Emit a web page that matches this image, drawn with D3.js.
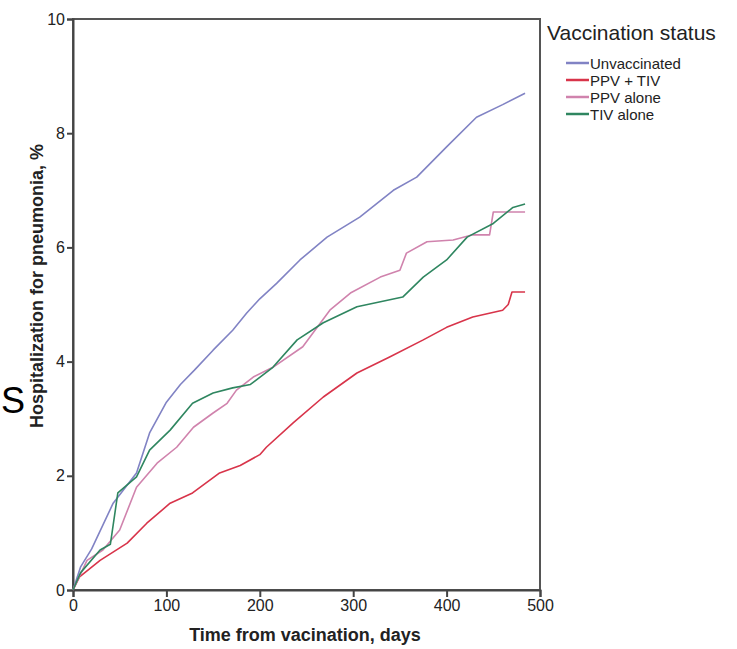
<!DOCTYPE html>
<html>
<head>
<meta charset="utf-8">
<script src="https://cdn.jsdelivr.net/npm/d3@7"></script>
<style>
  body { margin: 0; background: #fff; }
  text { font-family: "Liberation Sans", Arial, sans-serif; }
</style>
</head>
<body>
<div id="my_dataviz"></div>
<script>
var width = 737
height = 649

// series (days since vaccination, % hospitalized)
var unvacDays = [0, 8, 20, 43, 68, 82, 100, 115, 130, 150, 171, 186, 200, 218, 243, 272, 307, 343, 368, 400, 432, 460, 484]
var unvacVals = [0, 0.4, 0.72, 1.52, 2.05, 2.75, 3.29, 3.6, 3.85, 4.2, 4.55, 4.85, 5.1, 5.37, 5.78, 6.18, 6.53, 7.0, 7.23, 7.76, 8.28, 8.5, 8.7]

var bothDays = [0, 7, 29, 58, 79, 104, 128, 157, 179, 200, 207, 236, 268, 304, 339, 375, 400, 428, 460, 466, 470, 484]
var bothVals = [0, 0.23, 0.52, 0.82, 1.17, 1.52, 1.7, 2.05, 2.18, 2.37, 2.5, 2.93, 3.38, 3.8, 4.08, 4.38, 4.6, 4.78, 4.9, 5.0, 5.22, 5.22]

var ppvDays = [0, 15, 32, 50, 68, 90, 111, 129, 150, 165, 175, 193, 214, 246, 275, 297, 329, 350, 357, 379, 407, 428, 446, 450, 484]
var ppvVals = [0, 0.52, 0.7, 1.05, 1.8, 2.22, 2.5, 2.85, 3.1, 3.27, 3.5, 3.73, 3.9, 4.26, 4.9, 5.2, 5.48, 5.6, 5.9, 6.1, 6.13, 6.22, 6.22, 6.62, 6.62]

var tivDays = [0, 8, 29, 40, 48, 68, 82, 104, 128, 150, 171, 190, 214, 240, 268, 304, 353, 375, 400, 422, 450, 471, 484]
var tivVals = [0, 0.3, 0.7, 0.8, 1.7, 1.98, 2.45, 2.8, 3.27, 3.45, 3.54, 3.6, 3.9, 4.38, 4.68, 4.96, 5.13, 5.48, 5.78, 6.18, 6.42, 6.7, 6.76]

var seriesNames = ["Unvaccinated", "PPV + TIV", "PPV alone", "TIV alone"]
var seriesColors = ["#8183c4", "#d8344a", "#d083ad", "#2f8660"]
var xTicks = [0, 100, 200, 300, 400, 500]
var yTicks = [0, 2, 4, 6, 8, 10]

var series = [
  { name: seriesNames[0], days: unvacDays, vals: unvacVals },
  { name: seriesNames[1], days: bothDays, vals: bothVals },
  { name: seriesNames[2], days: ppvDays, vals: ppvVals },
  { name: seriesNames[3], days: tivDays, vals: tivVals }
]

var svg = d3.select("#my_dataviz")
  .append("svg")
  .attr("width", width)
  .attr("height", height)

var x = d3.scaleLinear().domain([0, 500]).range([73, 540])
var y = d3.scaleLinear().domain([0, 10]).range([590, 19])

var color = d3.scaleOrdinal().domain(seriesNames).range(seriesColors)

// frame
svg.append("rect")
  .attr("x", x(0))
  .attr("y", y(10))
  .attr("width", x(500) - x(0))
  .attr("height", y(0) - y(10))
  .attr("fill", "none")
  .attr("stroke", "#555")
  .attr("stroke-width", 2)

var xAxis = svg.append("g")
  .attr("transform", "translate(0," + y(0) + ")")
  .call(d3.axisBottom(x).tickValues(xTicks).tickSize(7).tickPadding(3))
xAxis.selectAll("text").style("font-size", "16px").attr("fill", "#222")

var yAxis = svg.append("g")
  .attr("transform", "translate(" + x(0) + ",0)")
  .call(d3.axisLeft(y).tickValues(yTicks).tickSize(6).tickPadding(2))
yAxis.selectAll("text").style("font-size", "16px").attr("fill", "#222")

svg.selectAll(".domain, .tick line").attr("stroke", "#444").attr("stroke-width", 2)

var line = d3.line()
  .x(function (d) { return x(d[0]) })
  .y(function (d) { return y(d[1]) })

svg.append("g")
  .selectAll("path")
  .data(series)
  .enter()
  .append("path")
  .attr("d", function (s) { return line(d3.zip(s.days, s.vals)) })
  .attr("fill", "none")
  .attr("stroke", function (s) { return color(s.name) })
  .attr("stroke-width", 1.6)
  .attr("stroke-linejoin", "round")

// axis titles
svg.append("text")
  .attr("x", 305)
  .attr("y", 641)
  .attr("text-anchor", "middle")
  .style("font-size", "18px")
  .style("font-weight", "bold")
  .attr("fill", "#222")
  .text("Time from vacination, days")

svg.append("text")
  .attr("transform", "translate(43,286) rotate(-90)")
  .attr("text-anchor", "middle")
  .style("font-size", "18px")
  .style("font-weight", "bold")
  .attr("fill", "#222")
  .text("Hospitalization for pneumonia, %")

svg.append("text")
  .attr("x", 1)
  .attr("y", 413)
  .style("font-size", "36px")
  .attr("fill", "#000")
  .text("S")

// legend
var legend = svg.append("g")

legend.append("text")
  .attr("x", 547)
  .attr("y", 40)
  .style("font-size", "21px")
  .attr("fill", "#222")
  .text("Vaccination status")

var rows = legend.selectAll("g.row")
  .data(seriesNames)
  .enter()
  .append("g")
  .attr("class", "row")
  .attr("transform", function (d, i) { return "translate(0," + (63 + i * 17) + ")" })

rows.append("line")
  .attr("x1", 566)
  .attr("x2", 589)
  .attr("stroke", function (d) { return color(d) })
  .attr("stroke-width", 2.5)

rows.append("text")
  .attr("x", 590)
  .attr("y", 5.5)
  .style("font-size", "15px")
  .attr("fill", "#222")
  .text(function (d) { return d })
</script>
</body>
</html>
